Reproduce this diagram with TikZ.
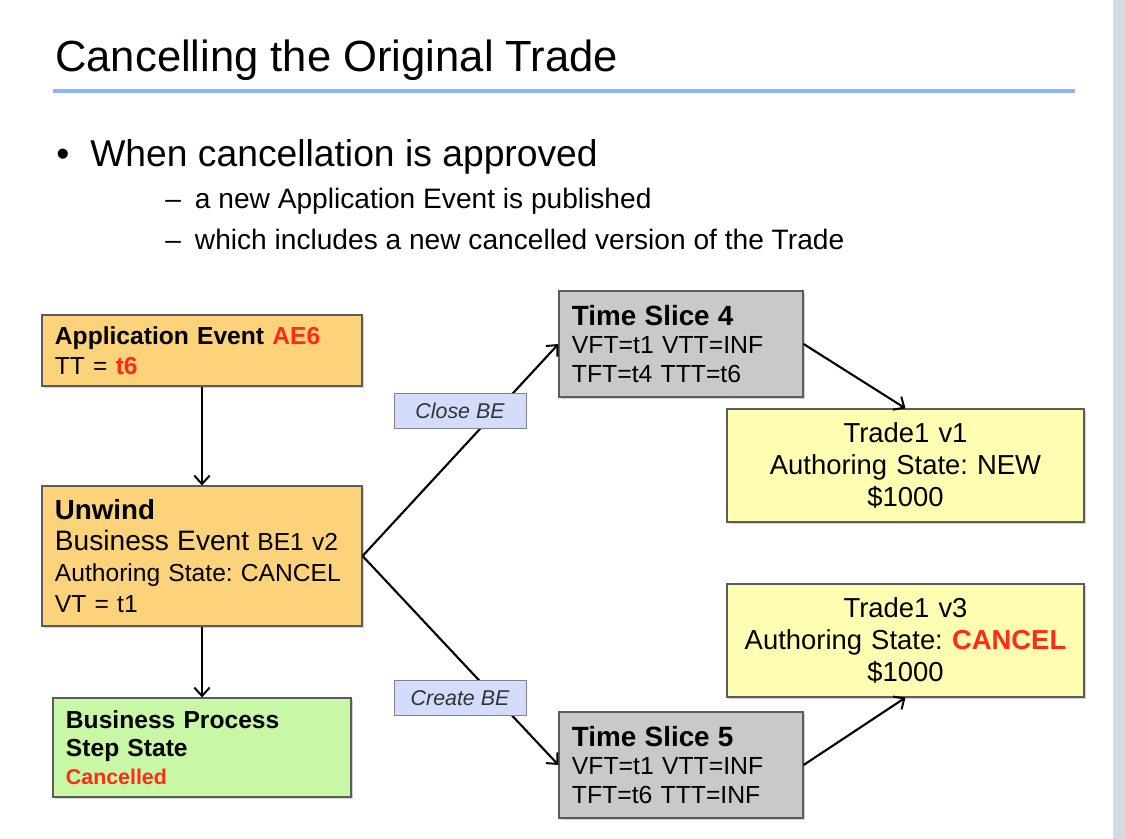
\documentclass[tikz,border=0pt]{standalone}
\usepackage{fontspec}
\setmainfont{Liberation Sans}
\usetikzlibrary{arrows.meta,shadows}

\definecolor{aeorange}{HTML}{FCD27B}
\definecolor{stepgreen}{HTML}{C8F7A6}
\definecolor{slicegrey}{HTML}{C9C9C9}
\definecolor{tradeyellow}{HTML}{FFFDB1}
\definecolor{actionblue}{HTML}{D5DCFB}
\definecolor{hotred}{HTML}{FF2B14}
\definecolor{rulebl}{HTML}{8FB5F7}
\definecolor{edgegrey}{HTML}{5C5C5C}
\definecolor{stripgrey}{HTML}{D3DBE3}

\frenchspacing

\tikzset{
  box/.style={draw=edgegrey, line width=0.8pt, inner xsep=0.325cm, inner ysep=0pt,
    drop shadow={shadow xshift=1.3pt, shadow yshift=-1.3pt, opacity=0.35}},
  eventbox/.style={box, fill=aeorange, minimum width=8cm, text width=7.35cm, align=left,
    font=\fontsize{17.5}{22}\selectfont},
  stepbox/.style={box, fill=stepgreen, minimum width=7.45cm, minimum height=2.475cm,
    text width=6.8cm, align=left, font=\bfseries\fontsize{17.5}{20}\selectfont},
  slicebox/.style={box, fill=slicegrey, minimum width=6.1cm, minimum height=2.65cm,
    text width=5.45cm, align=left, font=\fontsize{17.6}{20.5}\selectfont},
  tradebox/.style={box, fill=tradeyellow, minimum width=8.925cm, minimum height=2.825cm,
    inner xsep=0.1cm, text width=8.7cm, align=center, font=\fontsize{19.5}{23}\selectfont},
  actionlbl/.style={draw=edgegrey!70!actionblue, fill=actionblue, line width=0.6pt,
    minimum width=3.3cm, minimum height=0.875cm, inner sep=0pt, text=black!80,
    font=\itshape\fontsize{15.2}{18}\selectfont},
  flow/.style={-{Straight Barb[length=6pt,width=11pt,line width=1.4pt]}, line width=1.5pt},
  slidetext/.style={anchor=base west, inner sep=0pt}
}

\begin{document}
\begin{tikzpicture}[x=0.025cm, y=-0.025cm]

\useasboundingbox (0,0) rectangle (1125,839);

% Right edge strip
\fill[stripgrey] (1113,0) rectangle (1125,839);

% Title and rule
\node[slidetext, font=\fontsize{31}{36}\selectfont] (title) at (55,72) {Cancelling the Original Trade};
\coordinate (RL) at (53,91);
\coordinate (RR) at (1075,91);
\draw[rulebl, line width=2.2pt] (RL) -- (RR);

% Bullet text
\node[slidetext, font=\fontsize{26.5}{30}\selectfont] (bullet) at (56,167) {\textbullet};
\node[slidetext, font=\fontsize{26.5}{30}\selectfont] (point) at (90,167) {When cancellation is approved};
\node[slidetext, font=\fontsize{20}{24}\selectfont] (sub1) at (165,209) {–\enspace a new Application Event is published};
\node[slidetext, font=\fontsize{20}{24}\selectfont] (sub2) at (165,250) {–\enspace which includes a new cancelled version of the Trade};

% Left column
\node[eventbox, minimum height=1.775cm, font=\fontsize{17.5}{21.3}\selectfont] (AE) at (202,350.5)
  {\textbf{Application Event \textcolor{hotred}{AE6}}\\TT = \textbf{\textcolor{hotred}{t6}}};
\node[eventbox, minimum height=3.5cm] (UW) at (202,556)
  {{\bfseries\fontsize{19.7}{22}\selectfont Unwind}\\
   {\fontsize{20}{22}\selectfont Business Event} BE1 v2\\
   Authoring State: CANCEL\\
   VT = t1};
\node[stepbox] (BP) at (202,747.5)
  {Business Process\\Step State\\{\fontsize{15.2}{18}\selectfont\textcolor{hotred}{Cancelled}}};

% Time slices
\node[slicebox] (TS4) at (681,344)
  {{\bfseries\fontsize{19.8}{22}\selectfont Time Slice 4}\\VFT=t1 VTT=INF\\TFT=t4 TTT=t6};
\node[slicebox] (TS5) at (681,765)
  {{\bfseries\fontsize{19.8}{22}\selectfont Time Slice 5}\\VFT=t1 VTT=INF\\TFT=t6 TTT=INF};

% Trade versions
\node[tradebox] (TV1) at (905.5,465.5) {Trade1 v1\\Authoring State: NEW\\\$1000};
\node[tradebox] (TV3) at (905.5,640.5)
  {Trade1 v3\\Authoring State: \textbf{\textcolor{hotred}{CANCEL}}\\\$1000};

% Connectors
\draw[flow] (AE) -- (UW);
\draw[flow] (UW) -- (BP);
\draw[flow] (UW.east) -- (TS4.west);
\draw[flow] (UW.east) -- (TS5.west);
\draw[flow] (TS4.east) -- (TV1.north);
\draw[flow] (TS5.east) -- (TV3.south);

% Action labels on the lines
\node[actionlbl] (close) at (460,410.5) {Close BE};
\node[actionlbl] (create) at (460,698) {Create BE};

\end{tikzpicture}
\end{document}
